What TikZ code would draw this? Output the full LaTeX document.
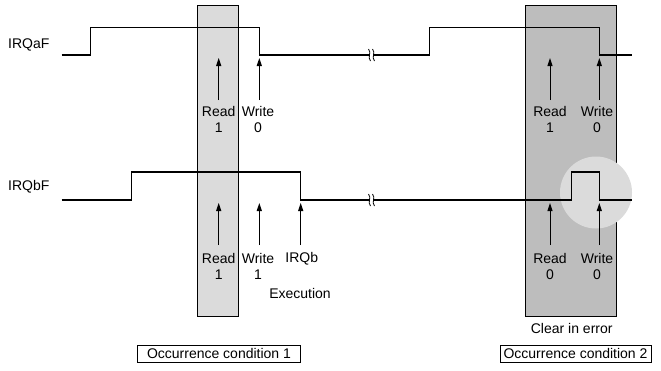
\documentclass[tikz,border=0pt]{standalone}
\usepackage{fontspec}
\setmainfont{Liberation Sans}
\usetikzlibrary{arrows.meta}
\begin{document}
\begin{tikzpicture}[x=1pt,y=-1pt,
  sig/.style={line width=1.3pt,line join=miter},
  arr/.style={line width=1pt,-{Triangle[length=8pt,width=5pt]}},
  lbl/.style={inner sep=0pt,align=center,font=\fontsize{14}{15.3}\selectfont},
  cond/.style={draw,line width=0.9pt,inner sep=0pt,minimum width=#1,minimum height=17pt,font=\fontsize{14}{15.3}\selectfont},
  win/.style={draw,line width=1pt}]
\useasboundingbox (0,0) rectangle (661,370);
% windows
\filldraw[win,fill=black!14] (197,5.7) rectangle (238.7,316);
\fill[black!26] (525.7,5.7) rectangle (616,316);
\draw[win] (525.7,5.7) rectangle (616,316);
\fill[black!14] (596,192.5) circle (36);
% signal labels
\node[lbl,anchor=west] (la) at (8,45) {IRQaF};
\node[lbl,anchor=west] (lb) at (8,186.5) {IRQbF};
% signals
\draw[sig] (61.7,55) -- (90.3,55) -- (90.3,27.5) -- (259.3,27.5) -- (259.3,55) -- (429.3,55) -- (429.3,27.5) -- (599.3,27.5) -- (599.3,55) -- (631.7,55);
\draw[sig] (61.7,200) -- (131.7,200) -- (131.7,172) -- (300.7,172) -- (300.7,200) -- (571.7,200) -- (571.7,172) -- (599.3,172) -- (599.3,200) -- (631.7,200);
% break marks
\foreach \yy in {55,200}{
  \fill[white] (369.5,\yy-6) rectangle (374,\yy+6);
  \draw[line width=0.8pt] (370.5,\yy+6) .. controls (367,\yy+2) and (372,\yy-2) .. (368.5,\yy-6);
  \draw[line width=0.8pt] (374.5,\yy+6) .. controls (371,\yy+2) and (376,\yy-2) .. (372.5,\yy-6);
}
% labels row A
\node[lbl] (ra1) at (218.7,119.5) {Read\\1};
\node[lbl] (wa1) at (258,119.5) {Write\\0};
\node[lbl] (ra2) at (550,119.5) {Read\\1};
\node[lbl] (wa2) at (597,119.5) {Write\\0};
% labels row B
\node[lbl] (rb1) at (218.7,266.5) {Read\\1};
\node[lbl] (wb1) at (258,266.5) {Write\\1};
\node[lbl] (ib1) at (301.7,258.3) {IRQb};
\node[lbl] (ex1) at (300,293.5) {Execution};
\node[lbl] (rb2) at (550,266.5) {Read\\0};
\node[lbl] (wb2) at (597,266.5) {Write\\0};
\node[lbl] (ce) at (571.7,328.5) {Clear in error};
% arrow coordinates
\coordinate (tra1) at (218.7,58);
\coordinate (twa1) at (259.3,58);
\coordinate (tra2) at (550,58);
\coordinate (twa2) at (599.3,58);
\coordinate (trb1) at (218.7,203);
\coordinate (twb1) at (259.3,203);
\coordinate (tib1) at (300.7,203);
\coordinate (trb2) at (550,203);
\coordinate (twb2) at (599.3,203);
\draw[arr] (218.7,100) -- (tra1);
\draw[arr] (259.3,100) -- (twa1);
\draw[arr] (550,100) -- (tra2);
\draw[arr] (599.3,100) -- (twa2);
\draw[arr] (218.7,245) -- (trb1);
\draw[arr] (259.3,245) -- (twb1);
\draw[arr] (300.7,245) -- (tib1);
\draw[arr] (550,245) -- (trb2);
\draw[arr] (599.3,245) -- (twb2);
% condition boxes
\node[cond=163.4pt] (c1) at (219,353.5) {Occurrence condition 1};
\node[cond=151pt] (c2) at (575.5,353.5) {Occurrence condition 2};
\end{tikzpicture}
\end{document}
